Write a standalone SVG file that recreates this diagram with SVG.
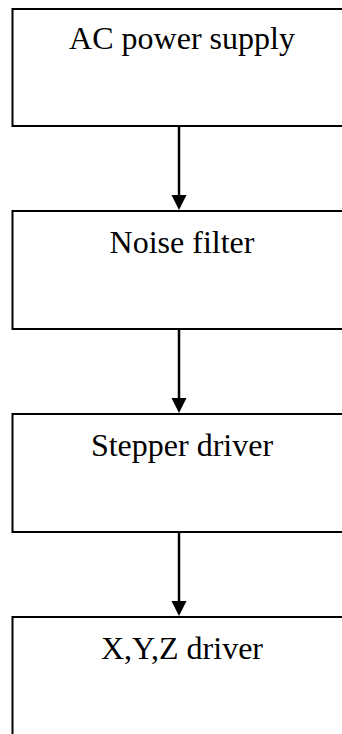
<svg xmlns="http://www.w3.org/2000/svg" width="342" height="734" viewBox="0 0 342 734">
  <style>
    .box { fill: #ffffff; stroke: #000000; stroke-width: 2; }
    .label { font-family: "Liberation Serif", "Times New Roman", serif; font-size: 32px; fill: #000000; text-anchor: middle; }
    .link { stroke: #000000; stroke-width: 2.5; fill: none; }
    .head { fill: #000000; }
  </style>
  <rect x="0" y="0" width="342" height="734" fill="#ffffff"/>

  <g id="ac-power-supply">
    <rect class="box" x="12.5" y="9" width="340" height="117"/>
    <text class="label" x="182" y="49">AC power supply</text>
  </g>

  <g id="noise-filter">
    <rect class="box" x="12.5" y="211" width="340" height="118"/>
    <text class="label" x="182" y="253">Noise filter</text>
  </g>

  <g id="stepper-driver">
    <rect class="box" x="12.5" y="414" width="340" height="118"/>
    <text class="label" x="182" y="456">Stepper driver</text>
  </g>

  <g id="xyz-driver">
    <rect class="box" x="12.5" y="617" width="340" height="140"/>
    <text class="label" x="182" y="659">X,Y,Z driver</text>
  </g>

  <g id="connectors">
    <line class="link" x1="179" y1="127" x2="179" y2="197"/>
    <polygon class="head" points="171.5,195 186.5,195 179,210"/>
    <line class="link" x1="179" y1="330" x2="179" y2="400"/>
    <polygon class="head" points="171.5,398 186.5,398 179,413"/>
    <line class="link" x1="179" y1="533" x2="179" y2="603"/>
    <polygon class="head" points="171.5,601 186.5,601 179,616"/>
  </g>
</svg>
